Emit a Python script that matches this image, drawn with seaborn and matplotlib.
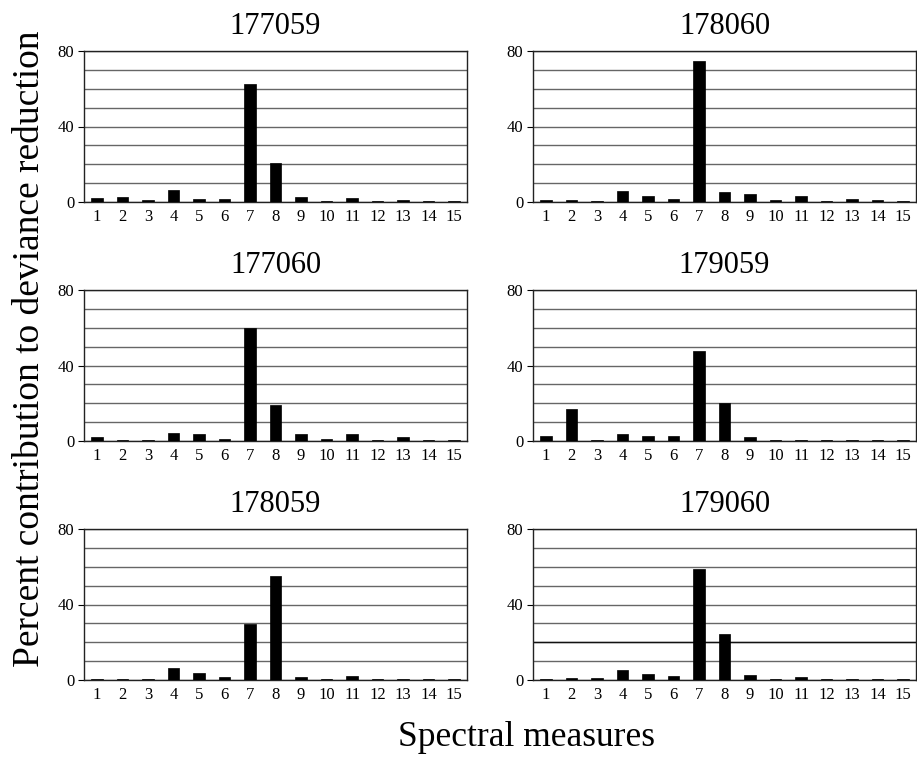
import matplotlib
matplotlib.use("Agg")
import matplotlib.pyplot as plt
import seaborn as sns
import pandas as pd
import numpy as np
from matplotlib.ticker import MultipleLocator, FixedLocator

measures = [str(i) for i in range(1, 16)]

titles = ["177059", "178060", "177060", "179059", "178059", "179060"]
v177059 = [2.0, 2.5, 0.8, 6.5, 1.7, 1.5, 62.7, 20.9, 2.4, 0.6, 2.0, 0.6, 0.8, 0.5, 0.5]
v178060 = [1.2, 0.8, 0.5, 6.0, 3.3, 1.8, 74.7, 5.4, 4.4, 1.0, 3.0, 0.5, 1.8, 1.2, 0.5]
v177060 = [1.9, 0.7, 0.4, 4.4, 3.5, 1.2, 59.7, 19.1, 3.5, 1.2, 3.5, 0.4, 1.9, 0.7, 0.4]
v179059 = [2.8, 16.8, 0.7, 3.9, 2.8, 2.8, 47.7, 20.3, 1.9, 0.4, 0.7, 0.4, 0.4, 0.4, 0.7]
v178059 = [0.5, 0.5, 0.5, 6.2, 3.5, 1.6, 29.8, 54.9, 1.8, 0.5, 2.1, 0.5, 0.5, 0.5, 0.5]
v179060 = [0.4, 0.9, 0.9, 5.1, 3.2, 2.3, 59.0, 24.4, 2.8, 0.4, 1.8, 0.4, 0.7, 0.4, 0.4]
series = [v177059, v178060, v177060, v179059, v178059, v179060]

sns.set_style("white")
plt.rcParams['font.family'] = ['Liberation Serif', 'DejaVu Serif']
plt.rcParams['text.color'] = 'black'
plt.rcParams['xtick.color'] = 'black'
plt.rcParams['ytick.color'] = 'black'
plt.rcParams['axes.labelcolor'] = 'black'

fig = plt.figure(figsize=(9.17, 7.64), dpi=100)

W, H = 917, 764
lefts = [84, 533]
width_px = 383
rows = [(51, 202), (290, 441), (529, 680)]

for i, (title, vals) in enumerate(zip(titles, series)):
    r, c = divmod(i, 2)
    top, bot = rows[r]
    ax = fig.add_axes([lefts[c] / W, 1 - bot / H, width_px / W, (bot - top) / H])
    df = pd.DataFrame({"measure": measures, "value": vals})
    sns.barplot(data=df, x="measure", y="value", color="black", width=0.45,
                saturation=1, edgecolor="black", linewidth=0.5, ax=ax, zorder=3)
    ax.set_xlim(-0.5, 14.5)
    ax.set_ylim(0, 80)
    ax.yaxis.set_major_locator(FixedLocator([0, 40, 80]))
    ax.yaxis.set_minor_locator(MultipleLocator(10))
    ax.grid(False)
    ax.grid(True, which="both", axis="y", color="#666666", linewidth=1.0, zorder=0)
    if i == 5:
        ax.axhline(20, color="#111111", linewidth=1.0, zorder=1)
    ax.set_axisbelow(True)
    for s in ax.spines.values():
        s.set_visible(True)
        s.set_color("#222222")
        s.set_linewidth(1.0)
    ax.xaxis.set_minor_locator(FixedLocator(np.arange(-0.5, 15, 1.0)))
    ax.tick_params(axis="x", which="major", length=0, labelsize=12, pad=5)
    ax.tick_params(axis="x", which="minor", length=3, width=0.8, color="#555555", direction="out")
    ax.tick_params(axis="y", which="major", length=4, width=0.8, labelsize=12, left=True, pad=3)
    ax.tick_params(axis="y", which="minor", length=0)
    ax.set_xlabel("")
    ax.set_ylabel("")
    ax.set_title(title, fontsize=22, pad=12, color="black")

fig.text(30 / W, 1 - 349 / H, "Percent contribution to deviance reduction",
         rotation=90, ha="center", va="center", fontsize=27, color="black")
fig.text(526 / W, 1 - 737 / H, "Spectral measures", ha="center", va="center",
         fontsize=25.5, color="black")

fig.savefig("out.png", dpi=100)
